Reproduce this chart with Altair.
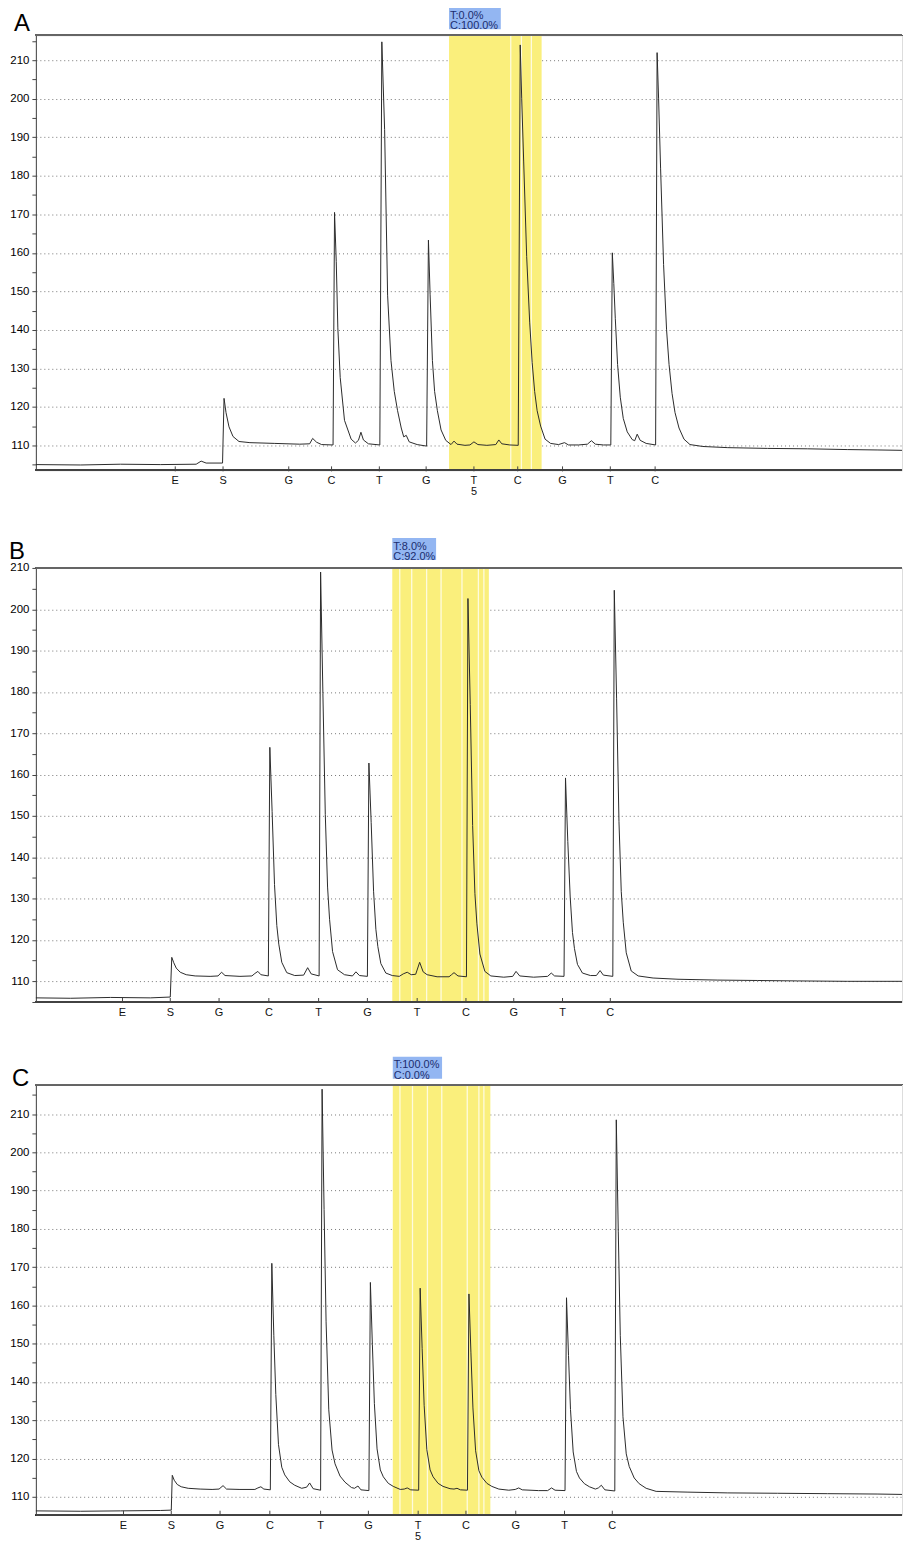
import altair as alt
import pandas as pd

# ---------------- Panel A trace (time units, signal) ----------------
A_t = [35, 80, 120, 160, 196, 201, 206, 221, 222.5, 224, 226, 229, 233, 239, 250, 275, 300, 310, 313, 317, 322,
       333.5, 335, 336.7, 338.3, 340.7, 345, 351.7, 356, 359, 361.5, 364, 369,
       380.5, 382.5, 385.3, 388.3, 391.7, 395, 398.3, 402, 404.5, 407, 410, 418,
       427.5, 429.3, 431, 433.3, 435.5, 438.3, 442, 446.7, 452, 455, 458, 466, 471, 475, 479, 488, 497, 500, 503, 511,
       519.5, 521.5, 523, 525, 528, 531, 533.5, 536, 538.5, 542, 546.5, 552, 560, 566, 570, 580, 589, 593, 597, 605,
       612.5, 614, 615.5, 617, 619.3, 622, 625, 629, 634, 636.5, 639, 642, 648,
       657.5, 659, 660.5, 662.5, 665.5, 668.5, 671, 674, 677, 681, 686, 692, 705, 730, 770, 810, 850, 880, 905]
A_v = [105.0, 104.9, 105.1, 105.0, 105.1, 105.9, 105.4, 105.4, 105.4, 122.2, 118.5, 114.8, 112.3, 111.0, 110.7, 110.5, 110.3, 110.4, 111.8, 110.8, 110.2,
       110.1, 170.5, 157.8, 140.5, 127.6, 116.5, 111.6, 110.6, 111.3, 113.4, 111.4, 110.4,
       110.1, 214.8, 192.0, 149.0, 132.0, 124.0, 119.0, 114.5, 112.2, 112.6, 110.9, 110.2,
       109.8, 163.3, 149.1, 132.0, 124.0, 119.0, 114.0, 111.3, 110.2, 111.1, 110.3, 110.0, 110.1, 110.9, 110.2, 110.0, 110.2, 111.4, 110.4, 110.1,
       110.0, 214.0, 200.0, 183.6, 159.0, 142.0, 131.5, 124.0, 119.0, 115.0, 111.6, 110.5, 110.2, 110.7, 110.1, 110.1, 110.3, 111.2, 110.3, 110.1,
       110.1, 160.0, 152.0, 143.0, 131.0, 122.5, 117.0, 113.5, 111.5, 111.2, 112.9, 111.3, 110.5,
       110.1, 212.0, 200.0, 182.0, 157.0, 140.0, 131.0, 123.5, 118.5, 114.5, 111.6, 110.2, 109.7, 109.4, 109.2, 109.1, 108.9, 108.8, 108.7]

# ---------------- Panel B trace ----------------
B_t = [35, 70, 110, 150, 170, 171.5, 173.5, 176, 180, 186, 195, 210, 218, 221.5, 225, 240, 252, 255, 258, 261,
       268.5, 270, 272.3, 274.7, 277, 279, 282, 287, 295, 304, 308, 311.5,
       319.5, 321, 323.3, 325.7, 328, 330, 333, 338, 345, 353, 356.5, 360,
       368, 369.5, 371.8, 374.2, 376.5, 378.5, 381.5, 386.5, 393, 400, 404, 408, 412, 416.5, 420.5, 424, 428, 438, 450, 452.5, 455, 459,
       467.5, 469, 471.3, 473.7, 476, 478, 481, 486, 492, 505, 514, 517.3, 521, 535, 549, 552.7, 556,
       565.5, 567, 569.3, 571.7, 574, 576, 579, 584, 592, 598, 601.7, 605,
       614.5, 616, 618.3, 620.7, 623, 625, 628, 633, 640, 655, 680, 720, 760, 800, 850, 905]
B_v = [106.0, 105.9, 106.1, 106.0, 106.2, 115.8, 114.5, 113.2, 112.2, 111.6, 111.3, 111.2, 111.3, 112.2, 111.4, 111.2, 111.3, 111.9, 112.4, 111.6,
       111.3, 166.6, 151.1, 133.4, 123.5, 119.0, 114.6, 112.1, 111.4, 111.5, 113.3, 111.8,
       111.3, 209.0, 179.6, 150.4, 132.8, 125.0, 117.2, 112.8, 111.6, 111.3, 112.3, 111.4,
       111.2, 162.8, 148.4, 131.8, 122.6, 118.4, 114.3, 112.0, 111.4, 111.2, 111.8, 112.2, 111.6, 111.7, 114.6, 112.3, 111.6, 111.1, 111.1, 111.6, 112.1, 111.3,
       111.1, 202.6, 177.0, 147.7, 131.2, 123.9, 116.6, 112.4, 111.3, 111.0, 111.2, 112.4, 111.3, 111.0, 111.2, 112.0, 111.3,
       111.2, 159.2, 143.8, 130.4, 121.8, 117.9, 114.1, 112.0, 111.4, 111.4, 112.6, 111.5,
       111.2, 204.6, 178.5, 148.6, 131.7, 124.3, 116.9, 112.5, 111.3, 110.8, 110.5, 110.3, 110.2, 110.1, 110.0, 110.0]

# ---------------- Panel C trace ----------------
C_t = [35, 80, 120, 160, 171, 172, 174, 177, 181, 188, 200, 212, 219, 223, 226.5, 240, 255, 258, 261, 264,
       270.5, 272, 274, 276, 278.7, 282, 285, 290, 295, 302, 307, 310, 313.5,
       321, 322.5, 324.5, 326.5, 329.2, 332.5, 335.5, 340.5, 345.5, 352, 355, 358.5, 361.5,
       369.5, 371, 373, 375, 377.7, 381, 384, 389, 394, 401, 405, 408, 411.5,
       419.5, 421, 423, 425, 427.7, 431, 434, 439, 444, 451, 455, 458, 461.5,
       468.5, 470, 472, 474, 476.7, 480, 483, 488, 493, 500, 510, 516.5, 520, 523.5, 540, 549, 553, 556.5,
       566.5, 568, 570, 572, 574.7, 578, 581, 586, 591, 597, 600, 603, 606.5,
       616.5, 618, 620, 622, 624.7, 628, 631, 636, 641, 648, 658, 690, 730, 780, 830, 880, 905]
C_v = [106.3, 106.2, 106.3, 106.4, 106.5, 115.6, 114.3, 113.2, 112.6, 112.2, 112.0, 111.9, 112.0, 112.9, 112.0, 111.9, 111.9, 112.3, 112.6, 112.0,
       111.8, 171.0, 152.2, 136.7, 123.6, 117.7, 115.7, 113.9, 113.0, 112.2, 112.5, 113.6, 112.1,
       111.7, 216.5, 185.1, 155.7, 132.7, 122.2, 118.6, 115.4, 113.8, 112.4, 112.2, 112.8, 111.8,
       111.6, 166.0, 149.7, 134.4, 122.5, 117.0, 115.2, 113.5, 112.7, 111.9, 112.0, 112.3, 111.8,
       111.7, 164.5, 148.7, 133.9, 122.3, 117.0, 115.2, 113.5, 112.7, 112.1, 112.0, 112.2, 111.8,
       111.7, 163.0, 147.6, 133.2, 122.0, 116.8, 115.1, 113.5, 112.7, 112.0, 111.7, 111.9, 112.3, 111.8, 111.6, 111.6, 112.3, 111.7,
       111.6, 162.0, 146.9, 132.8, 121.7, 116.6, 114.9, 113.4, 112.6, 112.0, 112.3, 113.0, 111.8,
       111.5, 208.5, 179.4, 152.2, 130.9, 121.2, 117.9, 114.9, 113.4, 112.2, 111.4, 111.2, 111.0, 110.9, 110.8, 110.7, 110.6]

# ---------------- dispensation order ----------------
A_disp = [175, 223, 289, 332, 380, 427, 475, 519, 564, 612, 657]
B_disp = [122, 170, 219, 269, 319, 368, 418, 467, 515, 564, 612]
C_disp = [123, 171, 220, 270, 321, 369, 419, 467, 517, 566, 614]
disp_letters = ["E", "S", "G", "C", "T", "G", "T", "C", "G", "T", "C"]
A_posnum = ["", "", "", "", "", "", "5", "", "", "", ""]
B_posnum = ["", "", "", "", "", "", "", "", "", "", ""]
C_posnum = ["", "", "", "", "", "", "5", "", "", "", ""]

# ---------------- analysed position (highlight) ----------------
A_hl = [450, 543]
B_hl = [393, 490]
C_hl = [393.5, 491.5]
A_stripes = [512, 522.7, 532.7]
B_stripes = [400.5, 412.5, 427.5, 442, 463, 479.5, 485]
C_stripes = [400.7, 413.3, 428.3, 442.7, 468.3, 480, 485]
A_box = [450, 502]
B_box = [393, 437]
C_box = [393.5, 443]
A_txt = "T:0.0%\nC:100.0%"
B_txt = "T:8.0%\nC:92.0%"
C_txt = "T:100.0%\nC:0.0%"

A_ydom = [103.5, 216.5]
B_ydom = [105.0, 210.0]
C_ydom = [105.3, 217.7]

XDOM = [35, 905]
W = 870
FONT = "Liberation Sans"


def panel(title, t, v, ydom, disp, nums, hl, stripes, box, txt, height, box_top, title_y, title_x):
    xs = alt.Scale(domain=XDOM, nice=False, zero=False)
    ys = alt.Scale(domain=ydom, nice=False, zero=False)
    lo = int((ydom[0] + 4.999) // 5 * 5)
    yvals = [x for x in range(lo, int(ydom[1]) + 1, 5) if ydom[0] <= x <= ydom[1]]

    trace = pd.DataFrame({"t": t, "v": v})
    hl_df = pd.DataFrame({"a": [hl[0]], "b": [hl[1]]})
    st_df = pd.DataFrame({"s": stripes})
    box_df = pd.DataFrame({"a": [box[0]], "b": [box[1]], "txt": [txt], "title": [title]})
    disp_df = pd.DataFrame({"p": disp, "lab": disp_letters, "num": nums})

    y_axis = alt.Axis(values=yvals, labelExpr="datum.value % 10 == 0 ? datum.label : ''",
                      grid=True, gridDash=[1, 3], gridColor="#777", gridWidth=1,
                      gridOpacity=alt.condition("datum.value % 10 == 0", alt.value(1), alt.value(0)),
                      domainColor="#444", tickColor="#444", tickSize=4, labelFontSize=11.5,
                      labelFont=FONT, labelColor="#000", labelPadding=3, title=None, minExtent=0)

    band = alt.Chart(hl_df).mark_rect(color="#faef7c").encode(
        x=alt.X("a:Q", scale=xs, axis=None), x2="b",
        y=alt.value(0), y2=alt.value(height))
    st = alt.Chart(st_df).mark_rule(color="white", strokeWidth=1.3, opacity=0.75).encode(
        x=alt.X("s:Q", scale=xs, axis=None), y=alt.value(0), y2=alt.value(height))
    bx = alt.Chart(box_df).mark_rect(color="#93b6f2").encode(
        x=alt.X("a:Q", scale=xs, axis=None), x2="b",
        y=alt.value(box_top), y2=alt.value(box_top + 22))
    tx = alt.Chart(box_df).mark_text(align="left", baseline="middle", fontSize=11, font=FONT,
                                      lineBreak="\n", lineHeight=10.5, color="#1b2d6e", dx=1).encode(
        x=alt.X("a:Q", scale=xs, axis=None), y=alt.value(box_top + 8.5), text="txt:N")
    ttl = alt.Chart(box_df).mark_text(align="left", baseline="alphabetic", fontSize=24, font=FONT,
                                       color="#000").encode(
        x=alt.value(title_x), y=alt.value(title_y), text="title:N")
    line = alt.Chart(trace).mark_line(color="#2a2a2a", strokeWidth=1).encode(
        x=alt.X("t:Q", scale=xs, axis=None),
        y=alt.Y("v:Q", scale=ys, axis=y_axis))
    top = alt.Chart(trace).mark_rule(color="#666", strokeWidth=1.2).encode(
        x=alt.value(0), x2=alt.value(W), y=alt.value(0))
    bottom = alt.Chart(trace).mark_rule(color="#444", strokeWidth=1).encode(
        x=alt.value(0), x2=alt.value(W), y=alt.value(height))
    dticks = alt.Chart(disp_df).mark_rule(color="#444").encode(
        x=alt.X("p:Q", scale=xs, axis=None), y=alt.value(height - 4), y2=alt.value(height + 1))
    dlab = alt.Chart(disp_df).mark_text(baseline="middle", fontSize=11, font=FONT, color="#111").encode(
        x=alt.X("p:Q", scale=xs, axis=None), y=alt.value(height + 11), text="lab:N")
    dnum = alt.Chart(disp_df).mark_text(baseline="middle", fontSize=11, font=FONT, color="#111").encode(
        x=alt.X("p:Q", scale=xs, axis=None), y=alt.value(height + 22), text="num:N")

    return alt.layer(band, st, bx, tx, ttl, line, top, bottom, dticks, dlab, dnum).properties(
        width=W, height=height)


pA = panel("A", A_t, A_v, A_ydom, A_disp, A_posnum, A_hl, A_stripes, A_box, A_txt, 437, -28, -4, -22)
pB = panel("B", B_t, B_v, B_ydom, B_disp, B_posnum, B_hl, B_stripes, B_box, B_txt, 436, -30, -9, -27)
pC = panel("C", C_t, C_v, C_ydom, C_disp, C_posnum, C_hl, C_stripes, C_box, C_txt, 432, -28, 1, -24)

chart = alt.vconcat(
    pA,
    alt.vconcat(pB, pC, spacing=83, bounds="flush"),
    spacing=98, bounds="flush"
).properties(
    padding={"top": -5, "left": 0, "right": 0, "bottom": -1.5}
).configure_view(stroke=None).configure(background="white")

chart.save("out.html", embed_options={"renderer": "svg", "actions": False})
